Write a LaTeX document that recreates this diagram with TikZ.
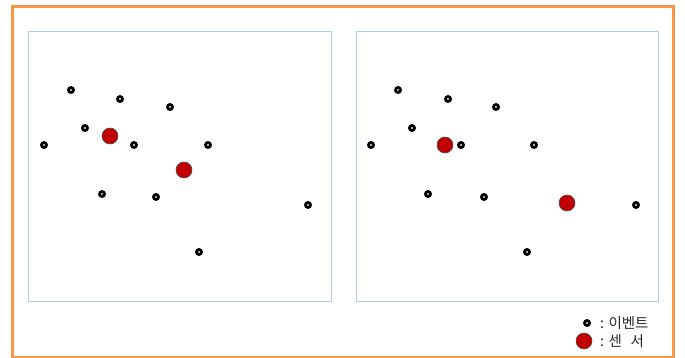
\documentclass[tikz,border=0pt]{standalone}
\usepackage{fontspec}
\newfontfamily\kr{Noto Sans CJK KR}
\definecolor{frameorange}{HTML}{F79646}
\definecolor{panelblue}{RGB}{175,200,230}
\definecolor{sensorred}{HTML}{C00000}
\begin{document}
\begin{tikzpicture}[x=1pt,y=-1pt,
  evt/.style={circle,draw=black,fill=white,line width=2.8pt,minimum size=5pt,inner sep=0pt},
  sensor/.style={circle,draw=black!70,fill=sensorred,line width=0.6pt,minimum size=16pt,inner sep=0pt},
  panel/.style={draw=panelblue,line width=0.9pt},
  lbl/.style={font=\kr\fontsize{14.5}{16}\selectfont,text=black!85,anchor=west,inner sep=0pt}]
\useasboundingbox (0,0) rectangle (685,358);
\draw[frameorange,line width=3pt] (12.5,6.5) rectangle (673,357);
\node[panel,minimum width=303pt,minimum height=270pt,anchor=north west,inner sep=0pt] (p1) at (28,31) {};
\node[panel,minimum width=302pt,minimum height=270pt,anchor=north west,inner sep=0pt] (p2) at (356,31) {};
% left panel events
\foreach \n/\x/\y in {a/71/90,b/120/99,c/170/107,d/85/128,e/134/145,f/44/145,g/208/145,h/102/194,i/156/197,j/308/205,k/199/252}
  \node[evt] (L\n) at (\x,\y) {};
\node[sensor] (LS1) at (110,136) {};
\node[sensor] (LS2) at (184,170) {};
% right panel events
\foreach \n/\x/\y in {a/398/90,b/448/99,c/496/107,d/412/128,e/461/145,f/371/145,g/534/145,h/428/194,i/484/197,j/636/205,k/527/252}
  \node[evt] (R\n) at (\x,\y) {};
\node[sensor] (RS1) at (445,145) {};
\node[sensor] (RS2) at (567,203) {};
% legend
\node[evt] (legE) at (587,323) {};
\node[sensor] (legS) at (584,341) {};
\node[lbl] (legEt) at (600,323) {: 이벤트};
\node[lbl] (legSt) at (600,341) {: 센\hspace{0.6em}서};
\end{tikzpicture}
\end{document}
